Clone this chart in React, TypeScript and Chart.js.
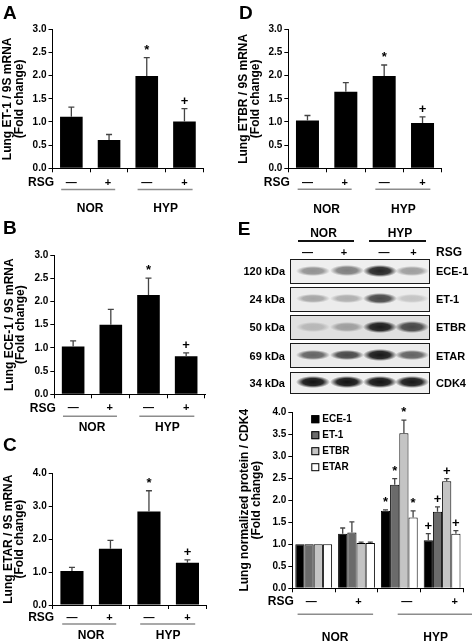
import React, { useEffect, useRef } from "react";
import { Chart, registerables } from "chart.js";

Chart.register(...registerables);

const FONT = "Arial, 'Liberation Sans', Helvetica, sans-serif";
Chart.defaults.font.family = FONT;
Chart.defaults.color = "#000";

// ---------- data ----------
const conditions = ["NOR RSG-", "NOR RSG+", "HYP RSG-", "HYP RSG+"];
const rsgTicks = ["—", "+", "—", "+"];
const groups = ["NOR", "HYP"];
const sigMarks = ["", "", "*", "+"];

// A: ET-1 mRNA
const et1Mrna = [1.11, 0.61, 1.99, 1.01];
const et1MrnaErr = [0.21, 0.12, 0.4, 0.28];
// B: ECE-1 mRNA
const ece1Mrna = [1.03, 1.5, 2.14, 0.82];
const ece1MrnaErr = [0.12, 0.33, 0.36, 0.07];
// C: ETAR mRNA
const etarMrna = [1.03, 1.71, 2.84, 1.28];
const etarMrnaErr = [0.11, 0.25, 0.63, 0.09];
// D: ETBR mRNA
const etbrMrna = [1.03, 1.65, 1.99, 0.98];
const etbrMrnaErr = [0.11, 0.2, 0.24, 0.13];

// E: protein / CDK4
const proteinSeries = ["ECE-1", "ET-1", "ETBR", "ETAR"];
const ece1Protein = [1.0, 1.24, 1.76, 1.09];
const ece1ProteinErr = [0, 0.13, 0.02, 0.15];
const et1Protein = [1.0, 1.27, 2.35, 1.74];
const et1ProteinErr = [0, 0.24, 0.14, 0.11];
const etbrProtein = [1.0, 1.03, 3.52, 2.43];
const etbrProteinErr = [0, 0.02, 0.3, 0.06];
const etarProtein = [1.0, 1.03, 1.61, 1.24];
const etarProteinErr = [0, 0.02, 0.15, 0.07];
const proteinColors = ["#000000", "#6b6b6b", "#c4c4c4", "#ffffff"];

// Western blot
const blotProteins = ["ECE-1", "ET-1", "ETBR", "ETAR", "CDK4"];
const blotSizes = ["120 kDa", "24 kDa", "50 kDa", "69 kDa", "34 kDa"];
const blotDensity = [
  [0.42, 0.5, 0.9, 0.36],
  [0.32, 0.28, 0.74, 0.18],
  [0.2, 0.32, 0.94, 0.74],
  [0.62, 0.74, 0.96, 0.62],
  [0.98, 0.98, 0.98, 0.96],
];

// ---------- plugin ----------
const decoPlugin = {
  id: "panelDeco",
  afterDatasetsDraw(chart: any) {
    const o = chart.options.plugins.panelDeco;
    const ctx = chart.ctx;
    const ys = chart.scales.y;
    ctx.save();
    chart.data.datasets.forEach((ds: any, di: number) => {
      const meta = chart.getDatasetMeta(di);
      meta.data.forEach((bar: any, i: number) => {
        const v = ds.data[i];
        const e = ds.err[i];
        const yBar = ys.getPixelForValue(v);
        const yTop = ys.getPixelForValue(v + e);
        if (e > 0) {
          ctx.strokeStyle = "#444";
          ctx.lineWidth = 1.3;
          ctx.beginPath();
          ctx.moveTo(bar.x, yBar);
          ctx.lineTo(bar.x, yTop);
          ctx.moveTo(bar.x - o.capHalf, yTop);
          ctx.lineTo(bar.x + o.capHalf, yTop);
          ctx.stroke();
        }
        const s = ds.sig[i];
        if (s) {
          ctx.fillStyle = "#000";
          ctx.font = `bold 13px ${FONT}`;
          ctx.textAlign = "center";
          ctx.textBaseline = "alphabetic";
          ctx.fillText(s, bar.x, yTop - 4);
        }
      });
    });
    ctx.restore();
  },
  afterDraw(chart: any) {
    const o = chart.options.plugins.panelDeco;
    const { ctx, chartArea } = chart;
    const xs = chart.scales.x;
    const b = chartArea.bottom;
    ctx.save();
    ctx.fillStyle = "#000";
    ctx.textBaseline = "middle";
    ctx.font = `bold 12px ${FONT}`;
    ctx.textAlign = "right";
    ctx.fillText("RSG", chartArea.left + 1.5, b + o.rows[0]);
    ctx.textAlign = "center";
    rsgTicks.forEach((t, i) => {
      ctx.font = `bold 11px ${FONT}`;
      ctx.fillText(t, xs.getPixelForValue(i) + o.rsgNudge[i], b + o.rows[0]);
    });
    groups.forEach((g, gi) => {
      const cx = (xs.getPixelForValue(gi * 2) + xs.getPixelForValue(gi * 2 + 1)) / 2;
      ctx.strokeStyle = o.lineColor;
      ctx.lineWidth = 1.5;
      ctx.beginPath();
      ctx.moveTo(cx + o.lineSpan[gi][0], b + o.rows[1]);
      ctx.lineTo(cx + o.lineSpan[gi][1], b + o.rows[1]);
      ctx.stroke();
      ctx.font = `bold 12px ${FONT}`;
      ctx.fillText(g, cx + o.groupNudge[gi], b + o.rows[2]);
    });
    if (o.legend) {
      chart.data.datasets.forEach((ds: any, i: number) => {
        const lx = chartArea.left + 19;
        const ly = chartArea.top + 7 + i * 16;
        ctx.fillStyle = ds.backgroundColor;
        ctx.fillRect(lx, ly - 4, 8, 8);
        ctx.strokeStyle = "#000";
        ctx.lineWidth = 1;
        ctx.strokeRect(lx + 0.5, ly - 3.5, 7, 7);
        ctx.fillStyle = "#000";
        ctx.font = `bold 10px ${FONT}`;
        ctx.textAlign = "left";
        ctx.fillText(ds.label, lx + 11, ly + 0.5);
      });
    }
    ctx.restore();
  },
};

type Series = { label: string; data: number[]; err: number[]; sig: string[]; fill: string; border?: boolean };

type PanelProps = {
  x: number; y: number; w: number; h: number;
  plot: number[];
  yMax: number; yStep: number;
  title: string[];
  series: Series[];
  barPct: number; catPct: number;
  rows: number[];
  lineColor: string;
  lineSpan: number[][];
  groupNudge: number[];
  rsgNudge: number[];
  legend?: boolean;
  capHalf: number;
  titlePad: number;
};

function BarPanel(p: PanelProps) {
  const ref = useRef<HTMLCanvasElement>(null);
  useEffect(() => {
    if (!ref.current) return;
    const chart = new Chart(ref.current, {
      type: "bar",
      data: {
        labels: conditions,
        datasets: p.series.map((s) => ({
          label: s.label,
          data: s.data,
          err: s.err,
          sig: s.sig,
          backgroundColor: s.fill,
          borderColor: "#000",
          borderWidth: s.border ? 1 : 0,
          barPercentage: p.barPct,
          categoryPercentage: p.catPct,
        })) as any,
      },
      options: {
        responsive: false,
        animation: false,
        events: [],
        layout: { padding: { left: 0, top: p.plot[1], right: p.w - p.plot[2], bottom: p.h - p.plot[3] - 4 } },
        plugins: {
          legend: { display: false },
          tooltip: { enabled: false },
          panelDeco: {
            rows: p.rows, lineColor: p.lineColor, lineSpan: p.lineSpan,
            groupNudge: p.groupNudge, rsgNudge: p.rsgNudge, legend: p.legend, capHalf: p.capHalf,
          },
        } as any,
        scales: {
          x: {
            offset: true,
            grid: { display: true, offset: true, drawOnChartArea: false, drawTicks: true, tickLength: 4, color: "#000" },
            border: { display: true, color: "#000", width: 1 },
            ticks: { display: false },
            afterFit: (s: any) => { s.height = 4; },
          },
          y: {
            min: 0,
            max: p.yMax,
            ticks: {
              stepSize: p.yStep,
              callback: (v: any) => Number(v).toFixed(1),
              font: { size: 10, weight: "bold" },
              color: "#000",
              padding: 2,
            },
            grid: { drawOnChartArea: false, drawTicks: true, tickLength: 4, color: "#000" },
            border: { display: true, color: "#000", width: 1 },
            title: {
              display: true,
              text: p.title,
              color: "#000",
              font: { size: 12, weight: "bold", lineHeight: 0.95 },
              padding: { top: p.titlePad, bottom: 0 },
            },
            afterFit: (s: any) => { s.width = p.plot[0]; },
          },
        } as any,
      },
      plugins: [decoPlugin as any],
    });
    return () => chart.destroy();
  }, []);
  return (
    <canvas
      ref={ref}
      width={p.w}
      height={p.h}
      style={{ position: "absolute", left: p.x, top: p.y, width: p.w, height: p.h }}
    />
  );
}

function Txt({ x, y, text, size, align = "left" }: { x: number; y: number; text: string; size: number; align?: "left" | "right" | "center" }) {
  const w = 200;
  const left = align === "left" ? x : align === "right" ? x - w : x - w / 2;
  return (
    <div
      style={{
        position: "absolute", left, top: y - 10, width: w, height: 20, lineHeight: "20px",
        fontSize: size, fontWeight: 700, fontFamily: FONT, textAlign: align, whiteSpace: "nowrap", color: "#000",
      }}
    >
      {text}
    </div>
  );
}

const rowTops = [259, 287, 315, 343.3, 371.7];
const rowH = [24.5, 24.5, 24.5, 24.5, 22];
const rowBg = ["#efefef", "#ececec", "#e0e0e0", "#ebebeb", "#f0f0f0"];
const laneX = [22, 56, 89, 121];
const bandH = [11, 10, 11, 10, 11];

function Blot() {
  return (
    <>
      {blotProteins.map((name, r) => (
        <React.Fragment key={name}>
          <div
            style={{
              position: "absolute", left: 290, top: rowTops[r], width: 140, height: rowH[r],
              boxSizing: "border-box", border: "1.5px solid #1a1a1a", background: rowBg[r], overflow: "hidden",
            }}
          >
            {blotDensity[r].map((a, i) => {
              const bw = 34;
              const bh = bandH[r] * (0.8 + 0.35 * a);
              return (
                <div
                  key={i}
                  style={{
                    position: "absolute", left: laneX[i] - bw / 2, top: (rowH[r] - 3) / 2 - bh / 2, width: bw, height: bh,
                    background: `radial-gradient(ellipse closest-side, rgba(15,15,15,${a}) 0%, rgba(15,15,15,${a * 0.9}) 60%, rgba(15,15,15,0) 100%)`,
                  }}
                />
              );
            })}
          </div>
          <Txt x={285} y={rowTops[r] + rowH[r] / 2} text={blotSizes[r]} size={11} align="right" />
          <Txt x={436} y={rowTops[r] + rowH[r] / 2} text={name} size={11} align="left" />
        </React.Fragment>
      ))}
      <Txt x={323.5} y={233} text="NOR" size={12} align="center" />
      <Txt x={400} y={233} text="HYP" size={12} align="center" />
      <div style={{ position: "absolute", left: 297.7, top: 240, width: 56.6, height: 1.5, background: "#111" }} />
      <div style={{ position: "absolute", left: 369.3, top: 240, width: 56.7, height: 1.5, background: "#111" }} />
      {[307.5, 344, 384, 413.5].map((x, i) => (
        <Txt key={i} x={x} y={252.3} text={rsgTicks[i]} size={11} align="center" />
      ))}
      <Txt x={436} y={252.3} text="RSG" size={12} align="left" />
    </>
  );
}

const mk = (label: string, data: number[], err: number[], sig: string[], fill: string, border = false): Series => ({
  label, data, err, sig, fill, border,
});

export default function App() {
  const common = {
    barPct: 0.6, catPct: 1, lineColor: "#8c8c8c", capHalf: 3,
    lineSpan: [[-29, 25], [-28, 27]], groupNudge: [0, 0], rsgNudge: [0, -1, 0, 0],
  };
  return (
    <div style={{ position: "absolute", left: 0, top: 0, width: 472, height: 641, background: "#fff", overflow: "hidden" }}>
      <BarPanel
        {...common}
        x={0} y={0} w={236} h={222}
        plot={[52.5, 29.3, 203.3, 168.3]}
        yMax={3} yStep={0.5}
        title={["Lung ET-1 / 9S mRNA", "(Fold change)"]}
        series={[mk("ET-1", et1Mrna, et1MrnaErr, sigMarks, "#000")]}
        rows={[14.2, 21.3, 40]}
        titlePad={2.3}
      />
      <BarPanel
        {...common}
        x={236} y={0} w={236} h={222}
        plot={[52.3, 29.3, 205.7, 168.3]}
        yMax={3} yStep={0.5}
        title={["Lung ETBR / 9S mRNA", "(Fold change)"]}
        series={[mk("ETBR", etbrMrna, etbrMrnaErr, sigMarks, "#000")]}
        rows={[14.4, 21, 41]}
        titlePad={2.3}
      />
      <BarPanel
        {...common}
        x={0} y={210} w={236} h={222}
        plot={[54.3, 45, 205, 184.3]}
        yMax={3} yStep={0.5}
        title={["Lung ECE-1 / 9S mRNA", "(Fold change)"]}
        series={[mk("ECE-1", ece1Mrna, ece1MrnaErr, sigMarks, "#000")]}
        rows={[14, 22, 33]}
        titlePad={4}
      />
      <BarPanel
        {...common}
        x={0} y={432} w={236} h={209}
        plot={[52.7, 41.3, 206.7, 173]}
        yMax={4} yStep={1}
        title={["Lung ETAR / 9S mRNA", "(Fold change)"]}
        series={[mk("ETAR", etarMrna, etarMrnaErr, sigMarks, "#000")]}
        rows={[12.7, 19, 31]}
        titlePad={2.5}
      />
      <BarPanel
        x={236} y={395} w={236} h={246}
        plot={[56.3, 17.2, 227.5, 193.3]}
        yMax={4} yStep={0.5}
        title={["Lung normalized protein / CDK4", "(Fold change)"]}
        series={[
          mk(proteinSeries[0], ece1Protein, ece1ProteinErr, sigMarks, proteinColors[0], true),
          mk(proteinSeries[1], et1Protein, et1ProteinErr, sigMarks, proteinColors[1], true),
          mk(proteinSeries[2], etbrProtein, etbrProteinErr, sigMarks, proteinColors[2], true),
          mk(proteinSeries[3], etarProtein, etarProteinErr, sigMarks, proteinColors[3], true),
        ]}
        barPct={1} catPct={0.86}
        rows={[13.7, 26, 49]}
        lineColor="#8c8c8c"
        lineSpan={[[-37.5, 38], [-23, 52]]}
        groupNudge={[0, 15]}
        rsgNudge={[-2.5, 2, 7.5, 12.5]}
        legend
        capHalf={2.5}
        titlePad={3.3}
      />
      <Blot />
      <Txt x={3} y={12.5} text="A" size={19} />
      <Txt x={239} y={12.5} text="D" size={19} />
      <Txt x={3} y={227.5} text="B" size={19} />
      <Txt x={3} y={445} text="C" size={19} />
      <Txt x={237.7} y={229} text="E" size={19} />
    </div>
  );
}
